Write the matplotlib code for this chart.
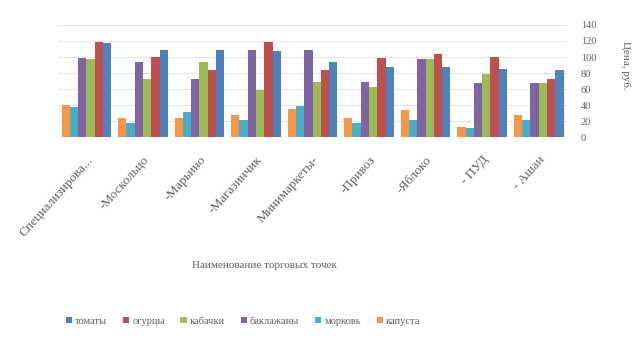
import matplotlib
matplotlib.use("Agg")
import matplotlib.pyplot as plt
import numpy as np

shops = ["Специализирова...", "-Москольцо", "-Марьино", "-Магазинчик",
         "Минимаркеты-", "-Привоз", "-Яблоко", "- ПУД", "- Ашан"]

# series in the order they are drawn inside a group (left to right)
kapusta = [40, 24, 24, 28, 35, 24, 34, 13, 28]
morkov = [38, 18, 32, 22, 39, 18, 21, 12, 21]
baklazhany = [99, 94, 73, 109, 109, 69, 97, 67, 68]
kabachki = [98, 73, 94, 59, 69, 62, 97, 79, 68]
ogurcy = [119, 100, 84, 119, 84, 99, 104, 100, 72]
tomaty = [118, 109, 109, 107, 94, 88, 88, 85, 84]

series = [("капуста", kapusta, "#F79646"),
          ("морковь", morkov, "#4BACC6"),
          ("баклажаны", baklazhany, "#8064A2"),
          ("кабачки", kabachki, "#9BBB59"),
          ("огурцы", ogurcy, "#C0504D"),
          ("томаты", tomaty, "#4F81BD")]

plt.rcParams['font.family'] = ['Liberation Serif', 'DejaVu Serif']
grey = "#5f5f5f"

fig = plt.figure(figsize=(6.32, 3.42), dpi=100)
ax = fig.add_axes([0.092, 0.599, 0.805, 0.328])

x = np.arange(len(shops))
w = 0.88 / len(series)
bars = {}
for i, (name, vals, col) in enumerate(series):
    bars[name] = ax.bar(x - 0.44 + w * (i + 0.5), vals, w, color=col,
                        label=name, zorder=3)

ax.set_xlim(-0.5, len(shops) - 0.5)
ax.set_ylim(0, 140)
ax.set_yticks(range(0, 141, 20))
ax.yaxis.tick_right()
ax.tick_params(axis='y', length=0, labelsize=7.5, colors=grey, pad=10)
ax.tick_params(axis='x', length=0, labelsize=9.5, colors=grey, pad=12)
ax.grid(axis='y', color="#e4e4e4", lw=0.8, zorder=0)
for s in ax.spines.values():
    s.set_visible(False)
ax.axhline(0, color="#d9d9d9", lw=0.8, zorder=2)

ax.set_xticks(x)
ax.set_xticklabels(shops, rotation=48, ha='right', va='top',
                   rotation_mode='anchor')

# y axis title sits at the right edge, partly outside the figure
fig.text(626 / 632, 1 - 65 / 342, "Цена, руб.", rotation=270,
         ha='center', va='center', fontsize=8, color=grey)

fig.text(264 / 632, 1 - 265 / 342, "Наименование торговых точек",
         ha='center', va='center', fontsize=8, color=grey)

order = ["томаты", "огурцы", "кабачки", "баклажаны", "морковь", "капуста"]
fig.legend([bars[n] for n in order], order, loc='center',
           bbox_to_anchor=(243 / 632, 1 - 321 / 342), ncol=6, frameon=False,
           fontsize=7.5, labelcolor=grey, handlelength=0.6,
           handleheight=0.6, handletextpad=0.3, columnspacing=1.5)

fig.savefig("out.png", dpi=100)
